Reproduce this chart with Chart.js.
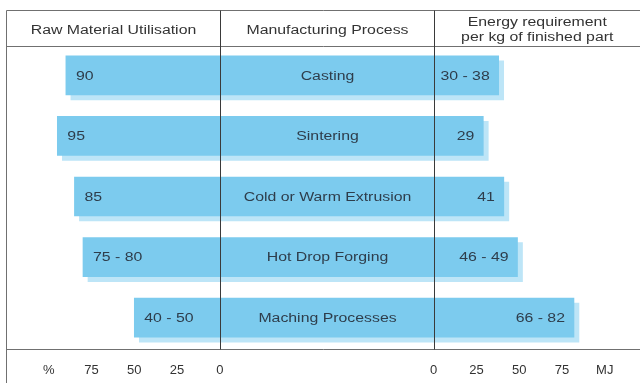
<!DOCTYPE html>
<html>
<head>
<meta charset="utf-8">
<script src="https://cdn.jsdelivr.net/npm/chart.js@4/dist/chart.umd.min.js"></script>
<style>
  html, body { margin: 0; padding: 0; background: #ffffff; }
  canvas { display: block; }
</style>
</head>
<body>
<canvas id="c" width="640" height="383"></canvas>
<script>
// Manufacturing processes compared by material use and energy demand
const processes = ['Casting', 'Sintering', 'Cold or Warm Extrusion', 'Hot Drop Forging', 'Maching Processes'];
const utilLow = [90, 95, 85, 75, 40];      // raw material utilisation, %
const utilHigh = [90, 95, 85, 80, 50];
const energyLow = [30, 29, 41, 46, 66];    // energy per kg of finished part, MJ
const energyHigh = [38, 29, 41, 49, 82];
const pctTicks = [75, 50, 25, 0];
const mjTicks = [0, 25, 50, 75];
const pctUnit = '%';
const mjUnit = 'MJ';
const headers = ['Raw Material Utilisation', 'Manufacturing Process', ['Energy requirement', 'per kg of finished part']];

// One shared x axis: the % half runs leftwards from 0, then a fixed-width
// middle column, then the MJ half runs rightwards.
const GAP = 125;
const X_MIN = -125;
const X_MAX = 245.6;

const rangeText = (lo, hi) => lo === hi ? String(hi) : lo + ' - ' + hi;

const tickValues = [-100, ...pctTicks.map(v => -v), ...mjTicks.map(v => GAP + v), GAP + 100];
const tickLabels = [pctUnit, ...pctTicks.map(String), ...mjTicks.map(String), mjUnit];

const BAR = '#7ccbee';
const SHADOW = '#bde5f7';
const INK = '#2e3d4b';
const FONT = '12px "Liberation Sans", Arial, Helvetica, sans-serif';
const STRETCH = 1.32;

function wideText(ctx, text, x, y, align) {
  ctx.save();
  ctx.translate(x, y);
  ctx.scale(STRETCH, 1);
  ctx.textAlign = align;
  ctx.textBaseline = 'middle';
  ctx.fillText(text, 0, 0);
  ctx.restore();
}

const barShadow = {
  id: 'barShadow',
  beforeDatasetDraw(chart) {
    const ctx = chart.ctx;
    ctx.save();
    ctx.shadowColor = SHADOW;
    ctx.shadowOffsetX = 5;
    ctx.shadowOffsetY = 5;
    ctx.shadowBlur = 0;
  },
  afterDatasetDraw(chart) {
    chart.ctx.restore();
  }
};

const tableFrame = {
  id: 'tableFrame',
  afterDatasetsDraw(chart) {
    const ctx = chart.ctx;
    const area = chart.chartArea;
    const x = chart.scales.x;
    const y = chart.scales.y;
    const left = area.left + 0.5;
    const right = chart.width;
    const top = area.top - 34.5;
    const headBottom = area.top + 1.5;
    const axisLine = area.bottom + 1.5;
    const zeroL = Math.round(x.getPixelForValue(0)) + 0.5;
    const zeroR = Math.round(x.getPixelForValue(GAP)) + 0.5;

    ctx.save();
    ctx.lineWidth = 1;
    ctx.strokeStyle = '#707070';
    ctx.beginPath();
    ctx.moveTo(left, top); ctx.lineTo(right, top);
    ctx.moveTo(left, headBottom); ctx.lineTo(right, headBottom);
    ctx.moveTo(left, axisLine); ctx.lineTo(right, axisLine);
    ctx.moveTo(left, top); ctx.lineTo(left, chart.height);
    ctx.stroke();

    ctx.strokeStyle = '#3a3a3a';
    ctx.beginPath();
    ctx.moveTo(zeroL, top); ctx.lineTo(zeroL, axisLine);
    ctx.moveTo(zeroR, top); ctx.lineTo(zeroR, axisLine);
    ctx.stroke();

    // column headings
    ctx.font = FONT;
    ctx.fillStyle = '#333333';
    const headMid = (top + headBottom) / 2 + 2;
    wideText(ctx, headers[0], (left + zeroL) / 2, headMid, 'center');
    wideText(ctx, headers[1], (zeroL + zeroR) / 2, headMid, 'center');
    wideText(ctx, headers[2][0], (zeroR + right) / 2, headMid - 7.5, 'center');
    wideText(ctx, headers[2][1], (zeroR + right) / 2, headMid + 7.5, 'center');

    // values and process names inside the bars
    ctx.fillStyle = INK;
    processes.forEach((name, i) => {
      const cy = y.getPixelForValue(i) + 1;
      const x0 = x.getPixelForValue(-utilHigh[i]);
      const x1 = x.getPixelForValue(GAP + energyHigh[i]);
      wideText(ctx, rangeText(utilLow[i], utilHigh[i]), x0 + 10, cy, 'left');
      wideText(ctx, name, (zeroL + zeroR) / 2, cy, 'center');
      wideText(ctx, rangeText(energyLow[i], energyHigh[i]), x1 - 9, cy, 'right');
    });
    ctx.restore();
  }
};

new Chart(document.getElementById('c'), {
  type: 'bar',
  data: {
    labels: processes,
    datasets: [{
      data: processes.map((_, i) => [-utilHigh[i], GAP + energyHigh[i]]),
      backgroundColor: BAR,
      borderWidth: 0,
      borderSkipped: false,
      barThickness: 39
    }]
  },
  options: {
    indexAxis: 'y',
    responsive: false,
    animation: false,
    devicePixelRatio: 1,
    layout: { padding: { left: 6, right: 0, top: 45, bottom: 0 } },
    plugins: { legend: { display: false }, tooltip: { enabled: false } },
    scales: {
      y: { display: false },
      x: {
        type: 'linear',
        min: X_MIN,
        max: X_MAX,
        border: { display: false },
        grid: { display: false, drawTicks: false },
        afterBuildTicks(scale) {
          scale.ticks = tickValues.map(v => ({ value: v }));
        },
        afterFit(scale) { scale.height = 35; },
        ticks: {
          autoSkip: false,
          maxRotation: 0,
          padding: 15,
          color: '#333333',
          font: { family: '"Liberation Sans", Arial, Helvetica, sans-serif', size: 13 },
          callback(value, index) { return tickLabels[index]; }
        }
      }
    }
  },
  plugins: [barShadow, tableFrame]
});
</script>
</body>
</html>
